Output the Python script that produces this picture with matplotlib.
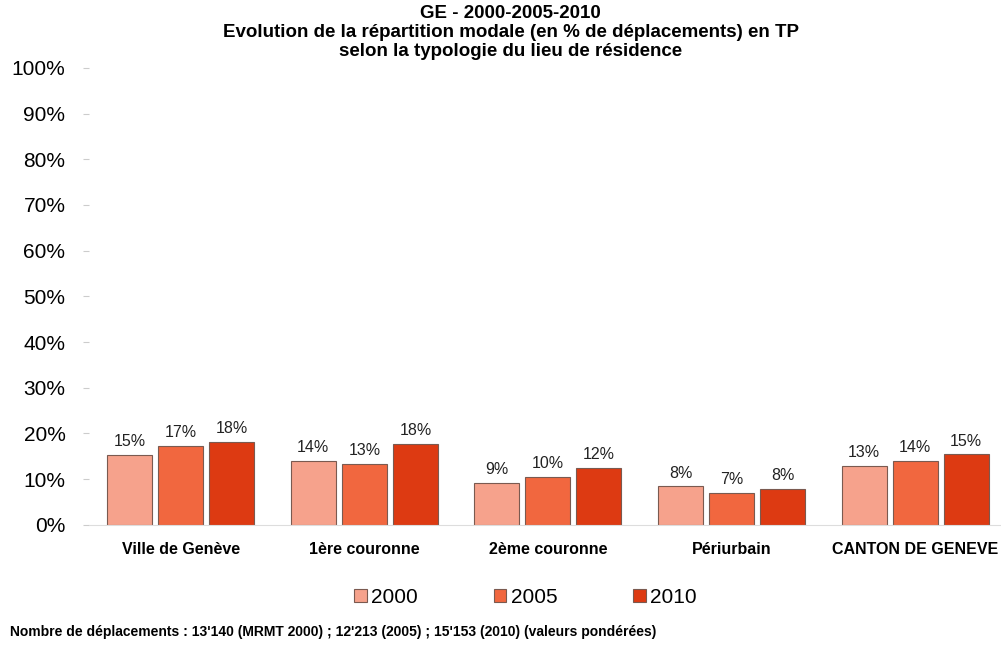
import matplotlib
matplotlib.use("Agg")
import matplotlib.pyplot as plt
import numpy as np

plt.rcParams["font.family"] = ["Liberation Sans", "DejaVu Sans"]

# values (share of trips by public transport, %)
categories = ["Ville de Genève", "1ère couronne", "2ème couronne",
              "Périurbain", "CANTON DE GENEVE"]
years = ["2000", "2005", "2010"]
share_2000 = [15.2, 14.0, 9.2, 8.4, 12.9]
share_2005 = [17.2, 13.4, 10.4, 7.0, 14.0]
share_2010 = [18.2, 17.8, 12.4, 7.8, 15.4]
yticks = [0, 10, 20, 30, 40, 50, 60, 70, 80, 90, 100]

colors = ["#F6A28C", "#F1673F", "#DD3A12"]
series = [share_2000, share_2005, share_2010]

fig = plt.figure(figsize=(10.01, 6.52), dpi=100)
ax = fig.add_axes([0.0889, 0.195, 0.917, 0.701])

x = np.arange(len(categories))
width = 0.245
step = 0.278
for i, (vals, year, col) in enumerate(zip(series, years, colors)):
    bars = ax.bar(x + (i - 1) * step, vals, width=width, color=col,
                  edgecolor="#7a5a50", linewidth=0.8, label=year)
    for b, v in zip(bars, vals):
        ax.text(b.get_x() + b.get_width() / 2, v + 1.3, f"{v:.0f}%",
                ha="center", va="bottom", fontsize=11.5, color="#222222")

ax.set_xlim(-0.5, len(categories) - 0.5)
ax.set_ylim(0, 100)
ax.set_yticks(yticks)
ax.set_yticklabels([f"{t}%" for t in yticks], fontsize=15)
ax.set_xticks(x)
ax.set_xticklabels(categories, fontsize=11.5, fontweight="bold")
ax.tick_params(axis="y", length=4, pad=13, color="#cccccc")
ax.tick_params(axis="x", length=0, pad=12)
for side in ["top", "right", "left"]:
    ax.spines[side].set_visible(False)
ax.spines["bottom"].set_color("#dddddd")

fig.text(0.51, 0.993, "GE - 2000-2005-2010\n"
         "Evolution de la répartition modale (en % de déplacements) en TP\n"
         "selon la typologie du lieu de résidence",
         ha="center", va="top", fontsize=13.5, fontweight="bold",
         linespacing=1.17)

fig.legend(loc="center", bbox_to_anchor=(0.525, 0.084), ncol=3,
           frameon=False, fontsize=15, handlelength=0.6,
           handleheight=0.6, handletextpad=0.2, columnspacing=3.65)

fig.text(0.01, 0.031, "Nombre de déplacements : 13'140 (MRMT 2000) ; "
         "12'213 (2005) ; 15'153 (2010) (valeurs pondérées)",
         ha="left", va="center", fontsize=10, fontweight="bold")

fig.savefig("out.png", dpi=100)
